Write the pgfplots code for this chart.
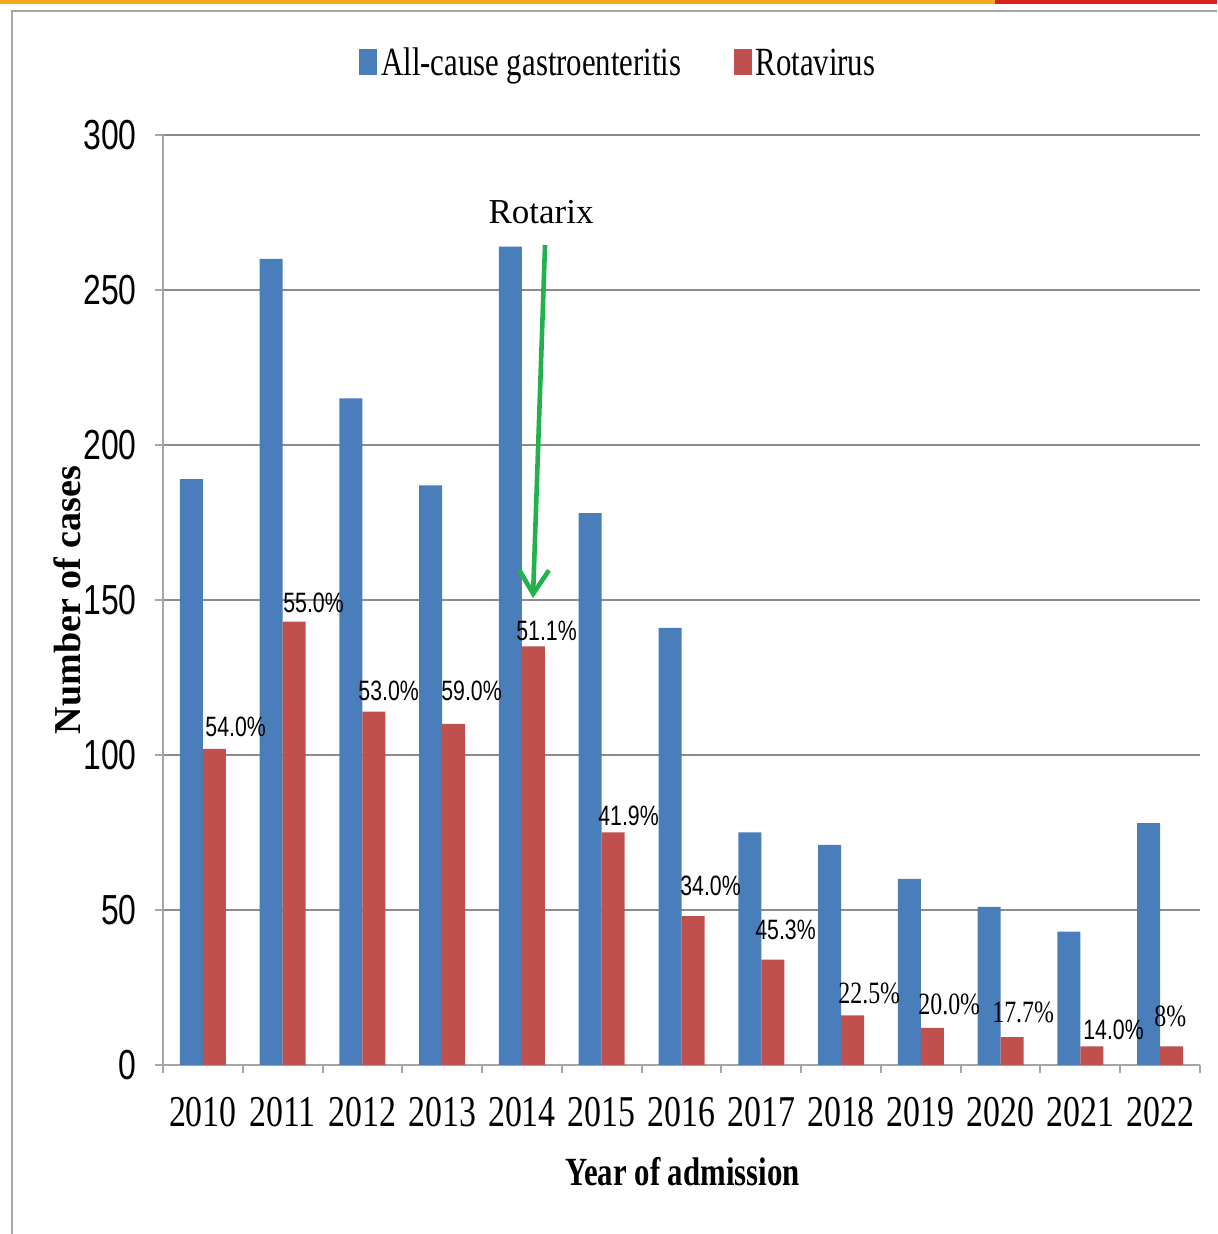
\documentclass[border=0pt]{standalone}
\usepackage{pgfplots}
\usepackage{pgfplotstable}
\pgfplotsset{compat=1.18}
\usetikzlibrary{arrows.meta}
\usepackage{fontspec}
\setmainfont{Liberation Serif}
\newfontfamily\condserif[FakeStretch=0.77]{Liberation Serif}
\newfontfamily\condsans[FakeStretch=0.76]{Liberation Sans}

\definecolor{barblue}{RGB}{74,126,187}
\definecolor{barred}{RGB}{192,80,77}
\definecolor{gridgray}{RGB}{140,140,140}
\definecolor{axisgray}{RGB}{165,165,165}
\definecolor{arrowgreen}{RGB}{34,177,76}
\definecolor{stripeorange}{RGB}{247,168,27}
\definecolor{stripered}{RGB}{217,32,28}

% admissions per year: all-cause gastroenteritis and rotavirus-positive
\pgfplotstableread{
x all rota
0 189 102
1 260 143
2 215 114
3 187 110
4 264 135
5 178 75
6 141 48
7 75 34
8 71 16
9 60 12
10 51 9
11 43 6
12 78 6
}\admissions

% rotavirus share, placed just above the red bars
\pgfplotstableread{
x y lab
0.027 109 54.0
1.004 149 55.0
1.945 120.6 53.0
2.985 120.6 59.0
3.925 140 51.1
4.953 80.3 41.9
5.981 57.7 34.0
6.921 43.5 45.3
11.033 11.3 14.0
}\sharesans
\pgfplotstableread{
x y lab
7.962 23.2 22.5
8.965 19.7 20.0
9.892 17.1 17.7
11.923 15.8 8
}\shareserif

\begin{document}
\begin{tikzpicture}
\path[use as bounding box] (0,0) rectangle (608.5pt,617pt);
% page frame
\begin{scope}[x=0.5pt,y=-0.5pt,shift={(0pt,617pt)}]
  \fill[stripeorange] (0,0) rectangle (995,4);
  \fill[stripered] (995,0) rectangle (1217,4);
  \draw[gray!70,line width=1.2pt] (12,1234) -- (12,11) -- (1217,11);
\end{scope}
\begin{axis}[
  at={(81.5pt,84.5pt)}, anchor=south west,
  scale only axis, width=518.5pt, height=465pt,
  xmin=-0.5, xmax=12.5, ymin=0, ymax=300,
  axis x line*=bottom, axis y line*=left,
  axis line style={axisgray,line width=1pt},
  every inner x axis line/.append style={-}, every inner y axis line/.append style={-},
  ytick={0,50,...,300},
  xtick={0,...,12},
  xticklabels={2010,2011,2012,2013,2014,2015,2016,2017,2018,2019,2020,2021,2022},
  minor xtick={-0.5,0.5,...,12.5},
  major x tick style={draw=none},
  tick align=outside,
  major tick length=4pt, minor tick length=4pt,
  tick style={axisgray,line width=1pt},
  ymajorgrids, major grid style={gridgray,line width=1pt},
  xticklabel style={font=\condserif\fontsize{22}{22}\selectfont, inner sep=0pt, anchor=north, yshift=-12pt},
  yticklabel style={font=\condsans\fontsize{21}{21}\selectfont, inner sep=0pt, anchor=east, xshift=-9pt},
  /pgf/number format/assume math mode=true,
  xlabel={Year of admission},
  xlabel style={font=\condserif\bfseries\fontsize{20}{20}\selectfont, at={(axis description cs:0.501,-0.115)}, anchor=center},
  ylabel={Number of cases},
  ylabel style={font=\bfseries\fontsize{19}{19}\selectfont, at={(axis description cs:-0.0926,0.5)}, anchor=center},
  legend columns=2,
  legend style={draw=none, fill=none, at={(axis description cs:0.44,1.077)}, anchor=center,
    font=\condserif\fontsize{20}{20}\selectfont, inner sep=0pt,
    /tikz/every even column/.append style={column sep=24pt}},
  legend image code/.code={\fill[#1] (0pt,-6pt) rectangle (9pt,7pt);},
  clip=false,
]
\addplot[ybar, bar width=11.5pt, bar shift=-5.75pt, fill=barblue, draw=none] table[x=x,y=all] {\admissions};
\addlegendentry{All-cause gastroenteritis}
\addplot[ybar, bar width=11.5pt, bar shift=5.75pt, fill=barred, draw=none] table[x=x,y=rota] {\admissions};
\addlegendentry{Rotavirus}

\addplot[draw=none, mark=none, forget plot, point meta=explicit symbolic,
  nodes near coords={\pgfplotspointmeta\%}, nodes near coords align={anchor=west},
  every node near coord/.append style={font=\condsans\fontsize{14}{14}\selectfont, inner sep=0pt, anchor=west}]
  table[x=x,y=y,meta=lab] {\sharesans};
\addplot[draw=none, mark=none, forget plot, point meta=explicit symbolic,
  nodes near coords={\pgfplotspointmeta\%}, nodes near coords align={anchor=west},
  every node near coord/.append style={font=\condserif\fontsize{15.5}{15.5}\selectfont, inner sep=0pt, anchor=west}]
  table[x=x,y=y,meta=lab] {\shareserif};

% vaccine introduction marker
\draw[arrowgreen, line width=2.3pt, -{Straight Barb[length=12pt,width=15pt,line width=2.3pt]}]
  (axis cs:4.289,264.5) -- (axis cs:4.138,150.6);
\node[font=\fontsize{17.5}{17.5}\selectfont] at (axis cs:4.239,275.2) {Rotarix};
\end{axis}
\end{tikzpicture}
\end{document}
